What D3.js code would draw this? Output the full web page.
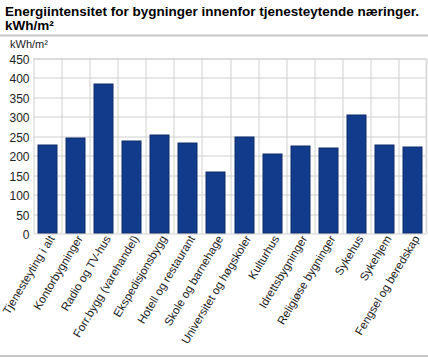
<!DOCTYPE html>
<html>
<head>
<meta charset="utf-8">
<script src="https://cdn.jsdelivr.net/npm/d3@7"></script>
<style>
  body { margin: 0; background: #fff; }
  text { font-family: "Liberation Sans", Arial, sans-serif; }
</style>
</head>
<body>
<div id="chart"></div>
<script>
var categories = ["Tjenesteyting i alt", "Kontorbygninger", "Radio og TV-hus", "Forr.bygg (varehandel)",
    "Ekspedisjonsbygg", "Hotell og restaurant", "Skole og barnehage", "Universitet og høgskoler",
    "Kulturhus", "Idrettsbygninger", "Religiøse bygninger", "Sykehus", "Sykehjem", "Fengsel og beredskap"];
var values = [228, 248, 386, 240, 255, 235, 160, 250, 205, 226, 221, 307, 229, 224];
var yTicks = [0, 50, 100, 150, 200, 250, 300, 350, 400, 450];

var width = 428, height = 358;
var margin = {top: 58.5, right: 1.5, bottom: 124.5, left: 33.5};

var svg = d3.select("#chart")
    .append("svg")
    .attr("width", width)
    .attr("height", height);

// title, two lines
svg.append("text")
    .attr("x", 5)
    .attr("y", 16)
    .style("font-size", "13.5px")
    .style("font-weight", "bold")
    .attr("fill", "#000")
    .text("Energiintensitet for bygninger innenfor tjenesteytende næringer.");
svg.append("text")
    .attr("x", 5)
    .attr("y", 30)
    .style("font-size", "13.5px")
    .style("font-weight", "bold")
    .attr("fill", "#000")
    .text("kWh/m²");

svg.append("line")
    .attr("x1", 0).attr("x2", width)
    .attr("y1", 35.5).attr("y2", 35.5)
    .attr("stroke", "#c8c8c8")
    .attr("stroke-width", 2);

svg.append("line")
    .attr("x1", 0).attr("x2", width)
    .attr("y1", 356).attr("y2", 356)
    .attr("stroke", "#c8c8c8")
    .attr("stroke-width", 2);

svg.append("text")
    .attr("x", 10)
    .attr("y", 48)
    .style("font-size", "11px")
    .attr("fill", "#222")
    .text("kWh/m²");

var plot = svg.append("g")
    .attr("transform", `translate(${margin.left}, ${margin.top})`);

var w = width - margin.left - margin.right;
var h = height - margin.top - margin.bottom;

var x = d3.scaleBand()
    .domain(categories)
    .range([0, w]);

var y = d3.scaleLinear()
    .domain([0, 450])
    .range([h, 0]);

// grid
plot.append("g").selectAll("line")
    .data(yTicks)
    .enter()
    .append("line")
    .attr("x1", 0).attr("x2", w)
    .attr("y1", function(d) { return Math.round(y(d)) + 0.5; })
    .attr("y2", function(d) { return Math.round(y(d)) + 0.5; })
    .attr("stroke", function(d) { return d == 450 ? "#dcdcdc" : "#d0d0d0"; })
    .attr("stroke-width", function(d) { return d == 450 ? 2 : 1; });

plot.append("g").selectAll("line")
    .data(categories.slice(1))
    .enter()
    .append("line")
    .attr("x1", function(d) { return Math.round(x(d)) + 0.5; })
    .attr("x2", function(d) { return Math.round(x(d)) + 0.5; })
    .attr("y1", 0).attr("y2", h)
    .attr("stroke", "#d0d0d0");

plot.append("line")
    .attr("x1", 0.5).attr("x2", 0.5)
    .attr("y1", 0).attr("y2", h)
    .attr("stroke", "#d0d0d0");
plot.append("line")
    .attr("x1", w).attr("x2", w)
    .attr("y1", 0).attr("y2", h)
    .attr("stroke", "#dcdcdc")
    .attr("stroke-width", 2);

// bars
var inset = x.bandwidth() * 0.145;
plot.selectAll("rect.bar")
    .data(values)
    .enter()
    .append("rect")
    .attr("class", "bar")
    .attr("x", function(d, i) { return Math.round(x(categories[i]) + inset) + 0.5; })
    .attr("y", function(d) { return Math.round(y(d)) + 0.5; })
    .attr("width", Math.round(x.bandwidth() - 2 * inset) - 1)
    .attr("height", function(d) { return Math.round(h - y(d)) - 1; })
    .attr("fill", "#133b8b")
    .attr("stroke", "#0e2c6c")
    .attr("stroke-width", 1);

// y axis
var yAxis = plot.append("g")
    .call(d3.axisLeft(y).tickValues(yTicks).tickSize(0).tickPadding(4));
yAxis.select(".domain").remove();
yAxis.selectAll("text")
    .style("font-size", "12px")
    .attr("fill", "#222")
    .attr("dy", "0.42em");

// x labels
plot.append("g").selectAll("text")
    .data(categories)
    .enter()
    .append("text")
    .attr("transform", function(d) {
        return `translate(${x(d) + x.bandwidth() / 2 + 7.5}, ${h + 5}) rotate(-59)`;
    })
    .style("text-anchor", "end")
    .style("font-size", "11.5px")
    .attr("fill", "#222")
    .text(function(d) { return d; });
</script>
</body>
</html>
